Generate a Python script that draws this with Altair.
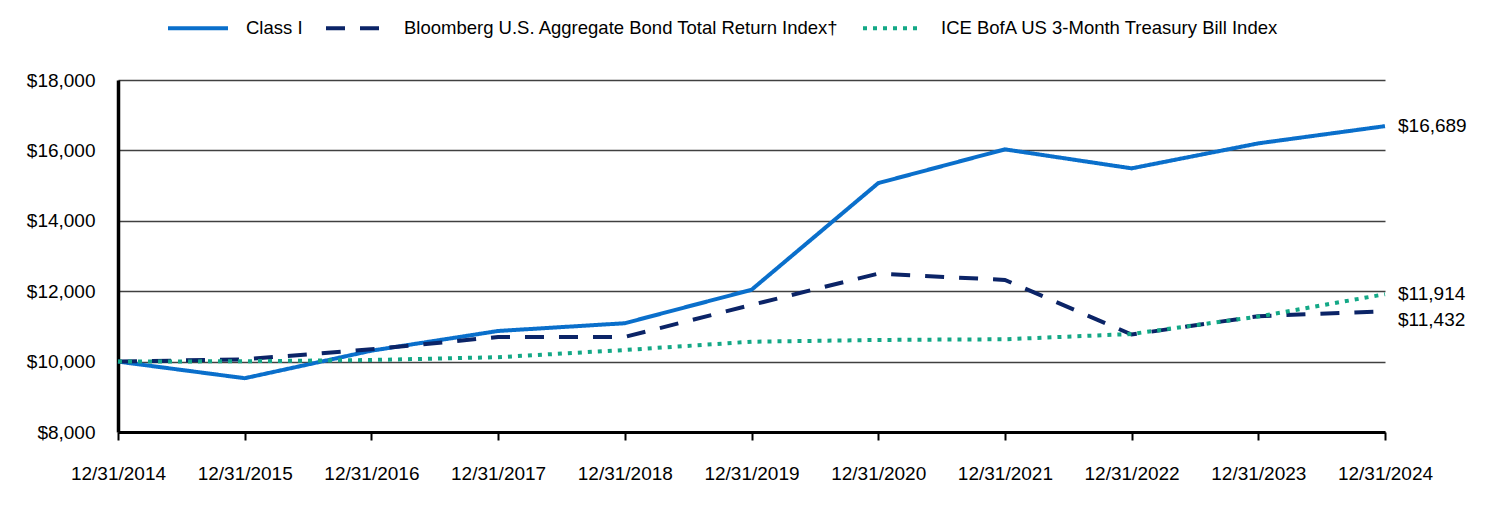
import altair as alt
import pandas as pd

dates = ["12/31/2014", "12/31/2015", "12/31/2016", "12/31/2017", "12/31/2018",
         "12/31/2019", "12/31/2020", "12/31/2021", "12/31/2022", "12/31/2023", "12/31/2024"]
class_i = [10000, 9528, 10310, 10870, 11090, 12040, 15070, 16030, 15490, 16200, 16689]
bloomberg = [10000, 10065, 10350, 10700, 10700, 11610, 12500, 12320, 10770, 11290, 11432]
ice = [10000, 10010, 10045, 10125, 10330, 10565, 10615, 10635, 10785, 11280, 11914]

series_names = ["Class I",
                "Bloomberg U.S. Aggregate Bond Total Return Index\u2020",
                "ICE BofA US 3-Month Treasury Bill Index"]
series_values = [class_i, bloomberg, ice]
colors = ["#0A6FCB", "#0B2467", "#13A886"]
dashes = [[1, 0], [19, 15], [4, 6]]

rows = []
for name, vals in zip(series_names, series_values):
    for d, v in zip(dates, vals):
        rows.append({"date": d, "series": name, "value": v})
df = pd.DataFrame(rows)

end_df = df[df["date"] == dates[-1]]
end_main = end_df[end_df["series"] != series_names[1]]
end_bb = end_df[end_df["series"] == series_names[1]]

x_enc = alt.X("date:N", sort=dates, scale=alt.Scale(type="point", padding=0),
              axis=alt.Axis(title=None, labelAngle=0, tickSize=8, tickWidth=2,
                            tickColor="black", labelPadding=24, grid=False,
                            domainColor="black", domainWidth=3))
y_enc = alt.Y("value:Q", scale=alt.Scale(domain=[8000, 18000], nice=False, zero=False),
              axis=alt.Axis(title=None, values=[8000, 10000, 12000, 14000, 16000, 18000],
                            format="$,.0f", ticks=False, tickSize=0, labelPadding=23,
                            grid=True, gridColor="#404040", gridWidth=1.6,
                            domainColor="black", domainWidth=3.5))

legend = alt.Legend(title=None, orient="none", direction="horizontal",
                    legendX=48, legendY=-84, symbolType="stroke",
                    symbolSize=3600, symbolStrokeWidth=4,
                    labelFontSize=18.5, labelOffset=16,
                    columnPadding=15, padding=0, labelLimit=600)

lines = alt.Chart(df).mark_line(strokeWidth=4, strokeCap="butt").encode(
    x=x_enc,
    y=y_enc,
    color=alt.Color("series:N", sort=series_names,
                    scale=alt.Scale(domain=series_names, range=colors),
                    legend=legend),
    strokeDash=alt.StrokeDash("series:N", sort=series_names,
                              scale=alt.Scale(domain=series_names, range=dashes),
                              legend=legend),
    order=alt.Order("series:N"),
)

labels_main = alt.Chart(end_main).mark_text(align="left", baseline="middle", dx=13,
                                            fontSize=19, color="black").encode(
    x=alt.X("date:N", sort=dates),
    y=alt.Y("value:Q"),
    text=alt.Text("value:Q", format="$,.0f"),
)
labels_bb = alt.Chart(end_bb).mark_text(align="left", baseline="middle", dx=13, dy=9,
                                        fontSize=19, color="black").encode(
    x=alt.X("date:N", sort=dates),
    y=alt.Y("value:Q"),
    text=alt.Text("value:Q", format="$,.0f"),
)

chart = alt.layer(lines, labels_main, labels_bb).properties(
    width=1267, height=352,
    autosize=alt.AutoSizeParams(type="none"),
    padding={"left": 118, "top": 80, "right": 127, "bottom": 84},
).configure(font="Liberation Sans").configure_view(stroke=None).configure_axis(
    labelFontSize=19, labelColor="black", labelFont="Liberation Sans"
).configure_legend(labelColor="black", labelFont="Liberation Sans")

chart.save("out.html", embed_options={"renderer": "svg", "actions": False})
